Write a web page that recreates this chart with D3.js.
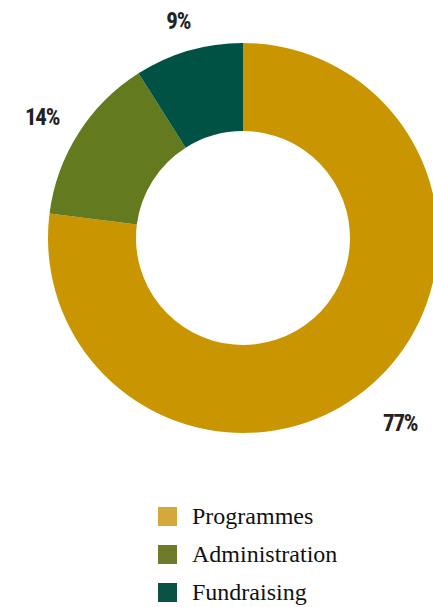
<!DOCTYPE html>
<html>
<head>
<meta charset="utf-8">
<script src="https://cdn.jsdelivr.net/npm/d3@7"></script>
<style>
  body { margin: 0; background: #fff; }
</style>
</head>
<body>
<div class="visual"></div>
<script>
// data
const categories = ["Programmes", "Administration", "Fundraising"];
const shares = [77, 14, 9];
const sliceColors = ["#c99500", "#647a1e", "#005244"];
const legendColors = ["#d5a83c", "#6f7b2b", "#0b5246"];

const width = 433;
const height = 607;
const cx = 243, cy = 238;
const outerR = 195, innerR = 107;

const svg = d3.select(".visual")
  .append("svg")
  .attr("width", width)
  .attr("height", height);

const g = svg.append("g")
  .attr("transform", "translate(" + cx + "," + cy + ")");

const pie = d3.pie().sort(null).value(d => d);
const arcs = pie(shares);
const arc = d3.arc().innerRadius(innerR).outerRadius(outerR);

g.selectAll(".slice")
  .data(arcs)
  .enter()
  .append("path")
  .attr("class", "slice")
  .attr("d", arc)
  .attr("fill", (d, i) => sliceColors[i]);

// labels outside the ring, pushed out by their own box size
const labelR = 216;
const labels = g.selectAll(".lbl")
  .data(arcs)
  .enter()
  .append("text")
  .attr("class", "lbl")
  .attr("font-family", "Roboto Condensed")
  .attr("font-weight", "bold")
  .attr("font-size", 23)
  .attr("letter-spacing", -1.2)
  .attr("fill", "#222")
  .attr("text-anchor", "middle")
  .attr("dominant-baseline", "central")
  .text(d => d.data + "%");

labels.each(function(d) {
  const bb = this.getBBox();
  const a = (d.startAngle + d.endAngle) / 2;
  const s = Math.sin(a), c = Math.cos(a);
  const r = labelR + bb.width / 2 * Math.abs(s) + bb.height / 2 * Math.abs(c);
  d3.select(this).attr("x", r * s).attr("y", -r * c + 7);
});

// legend
const legend = svg.selectAll(".legend")
  .data(categories)
  .enter()
  .append("g")
  .attr("class", "legend")
  .attr("transform", (d, i) => "translate(158," + (507 + i * 38) + ")");

legend.append("rect")
  .attr("width", 19)
  .attr("height", 19)
  .attr("fill", (d, i) => legendColors[i]);

legend.append("text")
  .attr("x", 34)
  .attr("y", 17)
  .attr("font-family", "Liberation Serif")
  .attr("font-size", 24)
  .attr("fill", "#111")
  .text(d => d);
</script>
</body>
</html>
